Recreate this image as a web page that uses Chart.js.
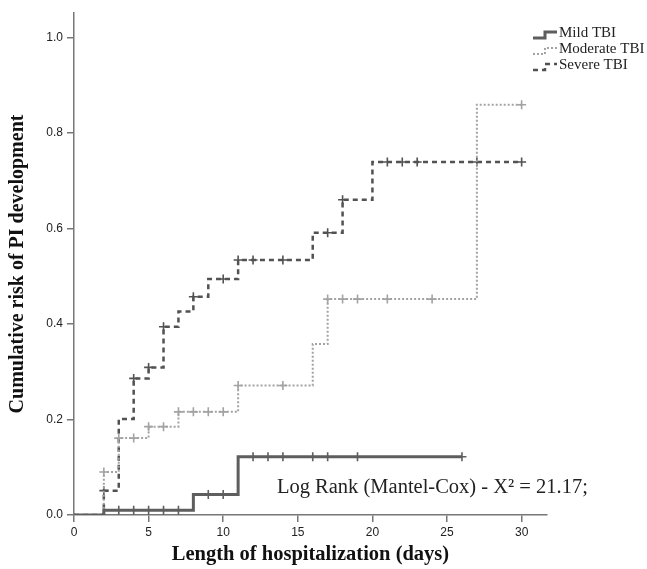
<!DOCTYPE html>
<html>
<head>
<meta charset="utf-8">
<script src="https://cdn.jsdelivr.net/npm/chart.js@4.4.1/dist/chart.umd.min.js"></script>
<style>
  body { margin: 0; background: #fff; }
  #wrap { width: 647px; height: 569px; }
</style>
</head>
<body>
<div id="wrap"><canvas id="kmChart"></canvas></div>
<script>
// Kaplan-Meier steps (day of event, cumulative risk after it)
const mildTimes = [0, 2, 8, 11, 26];
const mildRisk = [0, 0.01, 0.043, 0.122, 0.122];
const mildCensored = [3, 4, 5, 6, 7, 9, 10, 12, 13, 14, 16, 17, 19, 26];

const moderateTimes = [0, 2, 3, 5, 7, 11, 16, 17, 27, 30];
const moderateRisk = [0, 0.09, 0.161, 0.185, 0.216, 0.271, 0.358, 0.452, 0.859, 0.859];
const moderateCensored = [2, 3, 4, 5, 6, 7, 8, 9, 10, 11, 14, 17, 18, 19, 21, 24, 30];

const severeTimes = [0, 2, 3, 4, 5, 6, 7, 8, 9, 11, 16, 18, 20, 30];
const severeRisk = [0, 0.051, 0.201, 0.286, 0.309, 0.394, 0.426, 0.457, 0.494, 0.534, 0.591, 0.66, 0.739, 0.739];
const severeCensored = [2, 4, 5, 6, 8, 10, 11, 12, 14, 17, 18, 21, 22, 23, 27, 30];

const groupNames = ['Mild TBI', 'Moderate TBI', 'Severe TBI'];
const xTicks = [0, 5, 10, 15, 20, 25, 30];
const yTicks = [0, 0.2, 0.4, 0.6, 0.8, 1.0];
const logRankText = 'Log Rank (Mantel-Cox) - X\u00B2 = 21.17;';

const styles = [
  { color: '#5e5e5e', width: 3, dash: [] },
  { color: '#a3a3a3', width: 2, dash: [2, 2] },
  { color: '#525252', width: 2.5, dash: [5, 4] }
];

function riskAt(times, risk, t) {
  let v = 0;
  for (let i = 0; i < times.length; i++) {
    if (times[i] <= t) v = risk[i];
  }
  return v;
}

const groups = [
  [mildTimes, mildRisk, mildCensored],
  [moderateTimes, moderateRisk, moderateCensored],
  [severeTimes, severeRisk, severeCensored]
];

const datasets = [];
groups.forEach(([times, risk, cens], i) => {
  const s = styles[i];
  datasets.push({
    label: groupNames[i],
    data: times.map((t, k) => ({ x: t, y: risk[k] })),
    stepped: true,
    borderColor: s.color,
    borderWidth: s.width,
    borderDash: s.dash,
    pointRadius: 0,
    fill: false
  });
  datasets.push({
    label: groupNames[i] + ' censored',
    data: cens.map(t => ({ x: t, y: riskAt(times, risk, t) })),
    showLine: false,
    pointStyle: 'cross',
    pointRadius: 4.5,
    pointBorderWidth: 1.6,
    pointBorderColor: s.color,
    pointBackgroundColor: s.color
  });
});

// legend with little step icons + log rank note
const extras = {
  id: 'extras',
  afterDraw(chart) {
    const ctx = chart.ctx;
    ctx.save();
    ctx.font = '15px "Liberation Serif"';
    ctx.textBaseline = 'middle';
    ctx.fillStyle = '#222';
    groupNames.forEach((name, i) => {
      const y = 33 + i * 16;
      const s = styles[i];
      ctx.strokeStyle = s.color;
      ctx.lineWidth = s.width;
      ctx.setLineDash(s.dash);
      ctx.beginPath();
      ctx.moveTo(533, y + 5);
      ctx.lineTo(545, y + 5);
      ctx.lineTo(545, y - 1);
      ctx.lineTo(557, y - 1);
      ctx.stroke();
      ctx.setLineDash([]);
      ctx.fillText(name, 559, y);
    });
    const xs = chart.scales.x, ys = chart.scales.y;
    ctx.font = '20.5px "Liberation Serif"';
    ctx.fillStyle = '#222';
    ctx.fillText(logRankText, xs.getPixelForValue(13.6), ys.getPixelForValue(0.057));
    ctx.restore();
  }
};

new Chart(document.getElementById('kmChart'), {
  type: 'line',
  data: { datasets },
  options: {
    responsive: true,
    maintainAspectRatio: false,
    animation: false,
    layout: { padding: { top: 13, right: 100, left: 0, bottom: 0 } },
    plugins: { legend: { display: false }, tooltip: { enabled: false } },
    scales: {
      x: {
        type: 'linear',
        min: 0,
        max: 31.7,
        afterFit: s => { s.height = 54; },
        afterBuildTicks: s => { s.ticks = xTicks.map(v => ({ value: v })); },
        ticks: { color: '#222', font: { family: 'Liberation Sans', size: 12 }, padding: 3, maxRotation: 0 },
        grid: { drawOnChartArea: false, color: '#777', tickLength: 7, lineWidth: 1.5 },
        border: { color: '#777', width: 1.5 },
        title: {
          display: true,
          text: 'Length of hospitalization (days)',
          color: '#111',
          font: { family: 'Liberation Serif', size: 20.5, weight: 'bold' },
          padding: { top: 0, bottom: 2 }
        }
      },
      y: {
        min: 0,
        max: 1.051,
        afterFit: s => { s.width = 74; },
        afterBuildTicks: s => { s.ticks = yTicks.map(v => ({ value: v })); },
        ticks: { color: '#222', font: { family: 'Liberation Sans', size: 12 }, padding: 4, callback: v => v.toFixed(1) },
        grid: { drawOnChartArea: false, color: '#777', tickLength: 7, lineWidth: 1.5 },
        border: { color: '#777', width: 1.5 },
        title: {
          display: true,
          text: 'Cumulative risk of PI development',
          color: '#111',
          font: { family: 'Liberation Serif', size: 20, weight: 'bold' },
          padding: { top: 6, bottom: 0 }
        }
      }
    }
  },
  plugins: [extras]
});
</script>
</body>
</html>
